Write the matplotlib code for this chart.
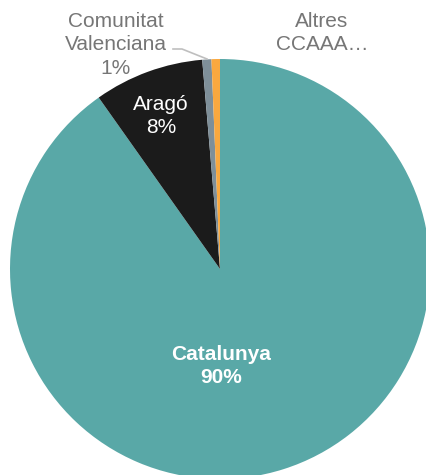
import matplotlib
matplotlib.use("Agg")
import matplotlib.pyplot as plt

categories = ["Catalunya", "Aragó", "Comunitat\nValenciana", "Altres\nCCAAA…"]
values = [90.2, 8.45, 0.7, 0.65]
colors = ["#59A8A7", "#1B1B1B", "#7E8F99", "#F9A83F"]

plt.rcParams['font.family'] = ['Liberation Sans', 'DejaVu Sans']

W, H = 426, 475
fig = plt.figure(figsize=(W / 100, H / 100), dpi=100)
ax = fig.add_axes([0, 0, 1, 1])

ax.pie(values, colors=colors, startangle=90, counterclock=False, radius=1,
       wedgeprops=dict(linewidth=0))

cx, cy, R = 220, 269, 210
ax.set_aspect('auto')
ax.set_xlim(-cx / R, (W - cx) / R)
ax.set_ylim((cy - H) / R, cy / R)
ax.axis('off')

def P(px, py):
    return (px - cx) / R, (cy - py) / R

fs = 15
ls = 1.3
pct = [f"{v:.0f}%" for v in values]
ax.text(*P(221, 366), f"{categories[0]}\n{pct[0]}", color='white', fontsize=fs,
        fontweight='bold', ha='center', va='center', linespacing=ls)
ax.text(*P(161, 116), f"{categories[1]}\n{pct[1]}", color='white', fontsize=fs,
        ha='center', va='center', linespacing=ls)
ax.text(*P(116, 45), f"{categories[2]}\n{pct[2]}", color='#767676', fontsize=fs,
        ha='center', va='center', linespacing=ls)
ax.text(*P(322, 33), f"{categories[3]}", color='#767676', fontsize=fs,
        ha='center', va='center', linespacing=ls)

xs, ys = zip(P(173, 49), P(182, 49), P(207, 59))
ax.plot(xs, ys, color='#BFBFBF', lw=1.2)

fig.savefig("out.png", dpi=100)
